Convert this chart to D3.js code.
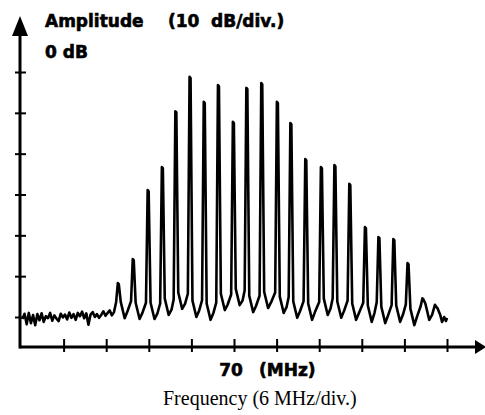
<!DOCTYPE html>
<meta charset="utf-8">
<style>

  body { margin: 0; background: #fff; }

  .bold {
    font: bold 17px "DejaVu Sans", sans-serif;
    fill: #000;
    stroke: #000;
    stroke-width: 0.6px;
  }

  .caption {
    font: 20px "Liberation Serif", "Times New Roman", serif;
    fill: #000;
  }

  .tick line {
    stroke: #000;
    stroke-width: 2px;
  }

</style>
<body>
<script src="https://d3js.org/d3.v7.min.js"></script>
<script>

var width = 485,
    height = 415;

// comb lines: frequency (MHz) and top level (dB)
var peakFreqs = [53.7, 55.8, 57.9, 59.9, 61.8, 63.8, 65.8, 67.8, 69.9, 71.8, 73.9, 76.1,
                 78.0, 80.1, 82.3, 84.2, 86.3, 88.5, 90.4, 92.5, 94.5, 96.6, 98.6];
var peakLevels = [-61.7, -55.8, -38.9, -33.3, -19.6, -11.2, -17.3, -13.2, -22.2, -13.9, -12.7, -17.3,
                  -22.5, -31.3, -33.3, -32.8, -37.4, -48.0, -50.4, -50.9, -56.8, -65.4, -67.6];

// floor between neighbouring lines (dB): bottom of the dip and the small bump after it
var gapLow = [-70.3, -70.5, -70.5, -69.5, -68.0, -70.0, -70.7, -68.3, -67.1, -68.8, -67.8,
              -69.0, -70.2, -70.7, -69.5, -70.2, -70.7, -71.2, -71.5, -71.2, -72.0, -70.7];
var gapBump = [-68.6, -69.0, -69.2, -68.2, -66.8, -68.4, -69.0, -67.0, -66.0, -67.3, -66.5,
               -67.6, -68.6, -68.8, -67.9, -68.5, -69.0, -68.9, -69.6, -69.4, -69.8, -69.5];

// noise floor left of the comb, one sample every 0.3 MHz from 40.2 MHz
var noiseStart = 40.2,
    noiseStep = 0.3;
var noiseLeft = [-70.5, -69.2, -71.8, -69.0, -71.5, -69.5, -72.0, -69.3, -70.8, -69.1, -71.2,
                 -69.8, -70.3, -69.0, -70.9, -69.6, -70.4, -71.0, -69.2, -70.1, -69.4, -70.6,
                 -68.9, -70.2, -69.3, -70.7, -69.0, -69.8, -68.7, -70.3, -69.1, -71.9, -69.4,
                 -68.8, -70.0, -69.3, -70.2, -69.5, -68.6, -69.7, -69.0, -68.4, -69.6, -68.8];

// tail right of the last line
var tailFreqs = [99.05, 99.3, 99.6, 99.85, 100.0];
var tailLevels = [-69.5, -71.2, -70.0, -71.0, -70.2];

var freqTicks = [46, 52, 58, 64, 70, 76, 82, 88, 94, 100];
var dbTicks = [-10, -20, -30, -40, -50, -60, -70];

var svg = d3.select("body").append("svg")
  .attr("width", width)
  .attr("height", height);

var x = d3.scaleLinear().domain([40, 100]).range([21, 447]);
var y = d3.scaleLinear().domain([-70, -10]).range([317, 72]);

// build the trace
var trace = [];
noiseLeft.forEach(function(v, i) {
  trace.push([noiseStart + i * noiseStep, v]);
});
peakFreqs.forEach(function(f, i) {
  var before = i === 0 ? noiseLeft[noiseLeft.length - 1] : gapBump[i - 1];
  trace.push([f - 0.3, before + 2.5]);
  trace.push([f - 0.06, peakLevels[i]]);
  trace.push([f + 0.08, peakLevels[i] - 0.3]);
  if (i < gapLow.length) {
    trace.push([f + 0.35, gapLow[i] + 4]);
    trace.push([f + 0.9, gapLow[i]]);
    trace.push([f + 1.3, gapBump[i]]);
  }
});
tailFreqs.forEach(function(f, i) {
  trace.push([f, tailLevels[i]]);
});

var line = d3.line()
  .x(function(d) { return x(d[0]); })
  .y(function(d) { return y(d[1]); });

svg.append("path")
  .datum(trace)
  .attr("d", line)
  .attr("fill", "none")
  .attr("stroke", "#000")
  .attr("stroke-width", 2.6)
  .attr("stroke-linejoin", "round");

// axes
var axisY = 347,
    axisX = 20;

svg.append("line")
  .attr("x1", axisX).attr("y1", axisY)
  .attr("x2", 480).attr("y2", axisY)
  .attr("stroke", "#000").attr("stroke-width", 3);

svg.append("line")
  .attr("x1", axisX).attr("y1", axisY + 1.5)
  .attr("x2", axisX).attr("y2", 30)
  .attr("stroke", "#000").attr("stroke-width", 3);

svg.append("path")
  .attr("d", "M" + axisX + ",16L" + (axisX - 8) + ",36L" + (axisX + 8) + ",36Z")
  .attr("fill", "#000");

svg.append("path")
  .attr("d", "M486," + axisY + "L475," + (axisY - 7) + "L475," + (axisY + 7) + "Z")
  .attr("fill", "#000");

svg.append("g")
  .attr("transform", "translate(0,339)")
  .call(d3.axisBottom(x).tickValues(freqTicks).tickSize(13).tickFormat(""))
  .call(function(g) { g.select(".domain").remove(); });

svg.append("g")
  .attr("transform", "translate(26,0)")
  .call(d3.axisLeft(y).tickValues(dbTicks).tickSize(11).tickFormat(""))
  .call(function(g) { g.select(".domain").remove(); });

// labels
svg.append("text").attr("class", "bold").attr("x", 45).attr("y", 27).text("Amplitude");
svg.append("text").attr("class", "bold").attr("x", 168).attr("y", 27).text("(10");
svg.append("text").attr("class", "bold").attr("x", 211).attr("y", 27).text("dB/div.)");
svg.append("text").attr("class", "bold").attr("x", 45).attr("y", 58).text("0 dB");

svg.append("text").attr("class", "bold")
  .attr("x", x(70) - 3).attr("y", 376)
  .attr("text-anchor", "middle")
  .text("70");
svg.append("text").attr("class", "bold").attr("x", 259).attr("y", 376).text("(MHz)");

svg.append("text").attr("class", "caption")
  .attr("x", 163).attr("y", 405)
  .text("Frequency (6 MHz/div.)");

</script>
